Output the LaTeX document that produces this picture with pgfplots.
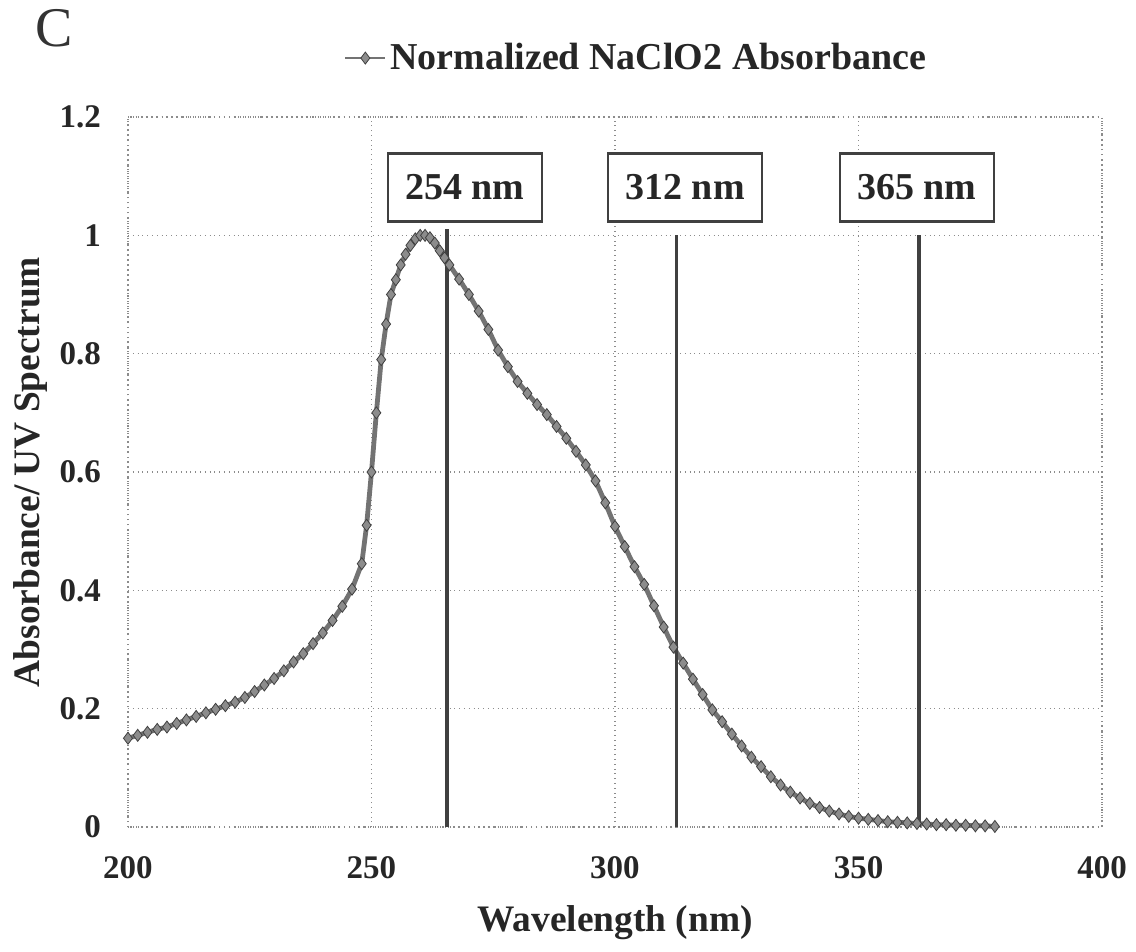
\documentclass[border=0pt]{standalone}
\usepackage{pgfplots}
\pgfplotsset{compat=1.18}
\usepackage{fontspec}
\setmainfont{Liberation Serif}
\begin{document}
\begin{tikzpicture}
\begin{axis}[
  scale only axis,
  width=487pt, height=355pt,
  xmin=200, xmax=400, ymin=0, ymax=1.2,
  xtick={200,250,...,400},
  ytick={0,0.2,...,1.2},
  yticklabels={0,0.2,0.4,0.6,0.8,1,1.2},
  major tick length=0pt,
  grid=major,
  grid style={black!45, dotted, line width=0.6pt},
  axis line style={black!45, dotted, line width=0.6pt},
  /pgf/number format/assume math mode=true,
  tick label style={font=\fontsize{16.5}{18}\selectfont\bfseries, text=black!85},
  xticklabel style={yshift=-11pt},
  yticklabel style={xshift=-10pt},
  xlabel={Wavelength (nm)},
  ylabel={Absorbance/ UV Spectrum},
  label style={font=\fontsize{18.7}{21}\selectfont\bfseries, text=black!85},
  xlabel style={at={(rel axis cs:0.5,-0.134)}, anchor=center},
  ylabel style={at={(rel axis cs:-0.1,0.5)}, anchor=center},
  clip=false,
  legend style={at={(rel axis cs:0.222,1.083)}, anchor=west, draw=none, fill=none,
    font=\fontsize{19}{21}\selectfont\bfseries, text=black!85, inner sep=0pt},
  legend image code/.code={
    \draw[mark repeat=2,mark phase=2,#1,line width=0.8pt] plot coordinates {(0cm,0cm) (0.35cm,0cm) (0.7cm,0cm)};},
  legend cell align=left,
]
\addplot[black!55, line width=2.4pt, mark=diamond*, mark size=3pt,
  mark options={fill=black!45, draw=black!75, line width=0.4pt}] coordinates {
(200,0.150) (202,0.155) (204,0.160) (206,0.165) (208,0.169) (210,0.175)
(212,0.181) (214,0.187) (216,0.193) (218,0.199) (220,0.205) (222,0.211)
(224,0.219) (226,0.229) (228,0.240) (230,0.251) (232,0.264) (234,0.279)
(236,0.293) (238,0.310) (240,0.328) (242,0.349) (244,0.373) (246,0.402)
(248,0.445) (249,0.510) (250,0.600) (251,0.700) (252,0.790) (253,0.850)
(254,0.900) (255,0.925) (256,0.950) (257,0.968) (258,0.983) (259,0.994)
(260,1.000) (261,1.000) (262,0.996) (263,0.987) (264,0.974) (265,0.962)
(266,0.950) (268,0.926) (270,0.900) (272,0.872) (274,0.841) (276,0.806)
(278,0.778) (280,0.753) (282,0.733) (284,0.714) (286,0.697) (288,0.677)
(290,0.657) (292,0.635) (294,0.612) (296,0.585) (298,0.548) (300,0.508)
(302,0.474) (304,0.440) (306,0.410) (308,0.374) (310,0.338) (312,0.304)
(314,0.277) (316,0.250) (318,0.224) (320,0.198) (322,0.178) (324,0.157)
(326,0.137) (328,0.118) (330,0.102) (332,0.085) (334,0.071) (336,0.059)
(338,0.049) (340,0.040) (342,0.033) (344,0.027) (346,0.022) (348,0.018)
(350,0.015) (352,0.013) (354,0.011) (356,0.009) (358,0.008) (360,0.007)
(362,0.006) (364,0.005) (366,0.004) (368,0.004) (370,0.003) (372,0.003)
(374,0.002) (376,0.002) (378,0.001)
};
\addlegendentry{Normalized NaClO2 Absorbance}
\addplot[black!75, line width=1.6pt, forget plot] coordinates {(265.5,0) (265.5,1.01)};
\addplot[black!75, line width=1.6pt, forget plot] coordinates {(312.7,0) (312.7,1.0)};
\addplot[black!75, line width=1.6pt, forget plot] coordinates {(362.4,0) (362.4,1.0)};
\begin{scope}[every node/.style={draw=black!75, line width=1.2pt, fill=white,
   minimum width=77pt, minimum height=34pt, inner sep=0pt,
   font=\fontsize{19}{21}\selectfont\bfseries, text=black!85}]
\node at (axis cs:269.2,1.081) {254 nm};
\node at (axis cs:314.4,1.081) {312 nm};
\node at (axis cs:362.0,1.081) {365 nm};
\end{scope}
\node[font=\fontsize{28}{30}\selectfont, text=black!80] at (rel axis cs:-0.076,1.125) {C};
\coordinate (bbSW) at (rel axis cs:-0.1314,-0.1746);
\coordinate (bbNE) at (rel axis cs:1.0349,1.1648);
\end{axis}
\pgfresetboundingbox
\path (bbSW) rectangle (bbNE);
\end{tikzpicture}
\end{document}
